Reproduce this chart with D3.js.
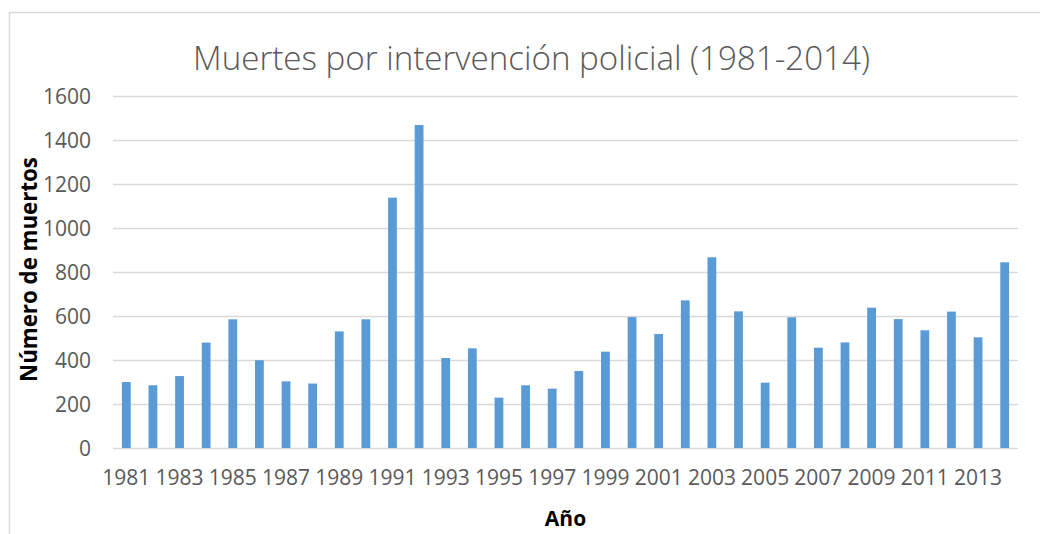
<!DOCTYPE html>
<html>
<head>
    <meta charset="utf-8">
    <title>Muertes por intervención policial</title>
    <style>
        body { margin: 0; background: #fff; }
        svg { display: block; }
        .grid line { stroke: #d9d9d9; stroke-width: 1.3px; }
        .grid .domain { display: none; }
        .tick text { fill: #595959; font-family: "Open Sans", sans-serif; font-size: 21px; }
        .bar { fill: #5b9bd5; }
        .axis-title { fill: #000; font-family: "Open Sans", sans-serif; font-weight: bold; }
    </style>
</head>
<body>
<div id="chart"></div>

<script src="https://d3js.org/d3.v7.min.js"></script>
<script>
    const title = "Muertes por intervención policial (1981-2014)";
    const years = d3.range(1981, 2015).map(String);
    const deaths = [300, 285, 327, 479, 585, 399, 303, 293, 530, 585,
                    1138, 1468, 409, 453, 229, 285, 270, 350, 438, 595,
                    518, 671, 867, 621, 297, 594, 456, 480, 638, 586,
                    535, 620, 503, 844];
    const yTicks = [0, 200, 400, 600, 800, 1000, 1200, 1400, 1600];

    const width = 1040, height = 534;
    const plot = { left: 113, right: 1018, top: 96, bottom: 448 };

    const svg = d3.select('#chart').append('svg')
        .attr('width', width)
        .attr('height', height);

    // chart frame (only top/left are visible in the picture)
    svg.append('rect')
        .attr('x', 9.5).attr('y', 12.5)
        .attr('width', width + 20).attr('height', height + 20)
        .attr('fill', 'none')
        .attr('stroke', '#d9d9d9')
        .attr('stroke-width', 1.5);

    const x = d3.scaleBand()
        .domain(years)
        .range([plot.left, plot.right])
        .paddingInner(0.67)
        .paddingOuter(0.335);

    const y = d3.scaleLinear()
        .domain([0, 1600])
        .range([plot.bottom, plot.top]);

    // gridlines + y labels
    const yAxis = svg.append('g')
        .attr('class', 'grid')
        .attr('transform', `translate(${plot.left},0)`)
        .call(d3.axisLeft(y)
            .tickValues(yTicks)
            .tickFormat(d3.format('d'))
            .tickSize(-(plot.right - plot.left))
            .tickPadding(22));
    yAxis.selectAll('.tick text').attr('dy', '0.36em');

    // bars
    svg.append('g')
        .selectAll('rect')
        .data(deaths)
        .enter().append('rect')
        .attr('class', 'bar')
        .attr('x', (d, i) => x(years[i]))
        .attr('y', d => y(d))
        .attr('width', x.bandwidth())
        .attr('height', d => y(0) - y(d));

    // x labels, every other year
    const xAxis = svg.append('g')
        .attr('class', 'grid')
        .attr('transform', `translate(0,${plot.bottom})`)
        .call(d3.axisBottom(x)
            .tickValues(years.filter((d, i) => i % 2 === 0))
            .tickSize(0)
            .tickPadding(22));
    xAxis.selectAll('.tick text').attr('dy', '0.71em');

    function fitWidth(sel, target) {
        const w = sel.node().getComputedTextLength();
        const fs = parseFloat(sel.attr('font-size'));
        sel.attr('font-size', fs * target / w);
    }

    const t = svg.append('text')
        .attr('x', 531.5)
        .attr('y', 70)
        .attr('text-anchor', 'middle')
        .attr('fill', '#595959')
        .attr('font-family', '"Open Sans", sans-serif')
        .attr('font-weight', 300)
        .attr('font-size', 30)
        .text(title);
    fitWidth(t, 677);

    const yt = svg.append('text')
        .attr('class', 'axis-title')
        .attr('transform', 'translate(37,269.5) rotate(-90)')
        .attr('text-anchor', 'middle')
        .attr('font-size', 20)
        .text('Número de muertos');
    fitWidth(yt, 225);

    svg.append('text')
        .attr('class', 'axis-title')
        .attr('x', (plot.left + plot.right) / 2)
        .attr('y', 526)
        .attr('text-anchor', 'middle')
        .attr('font-size', 21)
        .text('Año');
</script>
</body>
</html>
